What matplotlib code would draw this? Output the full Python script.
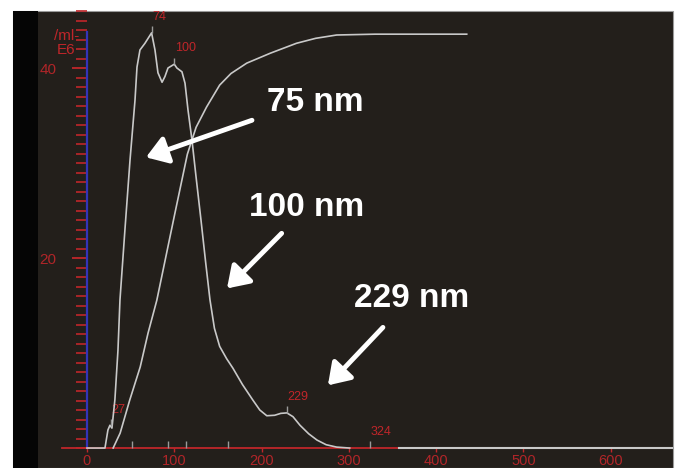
import numpy as np
import matplotlib
matplotlib.use("Agg")
import matplotlib.pyplot as plt
from matplotlib.patches import Rectangle
from matplotlib.ticker import FixedLocator

# particle size distribution, concentration in E6 particles/ml
size_nm = [0, 20.6, 24, 26.3, 28.6, 32, 35.5, 37.8, 43.5, 49.3, 55, 57.3, 60.7, 66.4,
           74, 77.9, 81.3, 86, 89.3, 92.8, 100, 103, 108.8, 112.3, 115.7, 120.3,
           125, 130.6, 136, 140.9, 146, 152, 160, 167.2, 178, 190, 198, 206,
           215, 222, 229, 236, 244, 254, 263.5, 274, 286, 301]
conc = [0, 0, 1.9, 2.4, 2.1, 5.1, 10.3, 15.6, 23, 30.3, 36.6, 40.1, 41.9, 42.6,
        43.7, 41.9, 39.5, 38.5, 39.1, 40.0, 40.4, 40.0, 39.6, 38.4, 35.6, 32.4,
        28.5, 24, 19.5, 15.6, 12.6, 10.7, 9.4, 8.4, 6.7, 5.05, 4.0, 3.4,
        3.45, 3.65, 3.7, 3.3, 2.4, 1.5, 0.84, 0.35, 0.1, 0]

# cumulative distribution, percent
cum_size = [30, 38, 49, 61, 70, 80, 100, 115, 125, 137, 152, 165, 183, 210, 240, 262, 286, 330, 435]
cum_pct = [0, 3.6, 11.6, 19.6, 27.8, 35.7, 56, 71, 77.5, 82.4, 87.7, 90.5, 93, 95.4, 97.8, 99, 99.8, 100, 100]

peaks = [27, 74, 100, 229, 324]
markers = [52, 93, 114, 162]

callouts = ["75 nm", "100 nm", "229 nm"]
callout_text = [(261, 36.4), (252, 25.3), (372, 15.7)]
callout_tail = [(189, 34.5), (223, 22.6), (339, 12.7)]
callout_tip = [(67.6, 30.6), (160.4, 16.8), (276, 6.6)]

BG = "#231f1b"
RED = "#c0262a"
CURVE = "#c9c9c9"

fig = plt.figure(figsize=(6.81, 4.68), dpi=100, facecolor="white")
fig.patches.append(Rectangle((13 / 681, 0), 660 / 681, 457 / 468, transform=fig.transFigure,
                             facecolor=BG, edgecolor="#9a9a9a", lw=0.8, zorder=-2))
fig.patches.append(Rectangle((13 / 681, 0), 25 / 681, 457 / 468, transform=fig.transFigure,
                             facecolor="#050505", edgecolor="none", zorder=-1))

ax = fig.add_axes([38 / 681, 0, 635 / 681, 457 / 468])
ax.set_facecolor("none")
ax.set_xlim(-56.1, 671.3)
ax.set_ylim(-2.1, 46.0)

for s in ["top", "right"]:
    ax.spines[s].set_visible(False)
ax.spines["bottom"].set_position(("data", 0))
ax.spines["bottom"].set_bounds(-29, 358)
ax.spines["bottom"].set_color(RED)
ax.spines["bottom"].set_linewidth(1.3)
ax.spines["left"].set_position(("data", 0))
ax.spines["left"].set_bounds(0, 43.8)
ax.spines["left"].set_color("#3434b8")
ax.spines["left"].set_linewidth(1.6)

ax.xaxis.set_major_locator(FixedLocator(range(0, 700, 100)))
ax.yaxis.set_major_locator(FixedLocator([20, 40]))
ax.yaxis.set_minor_locator(FixedLocator(range(0, 47)))
ax.tick_params(axis="x", colors=RED, length=3, width=1, pad=1, labelsize=10.5)
ax.tick_params(axis="y", which="major", colors=RED, length=11, width=1.3, pad=11, labelsize=11)
ax.tick_params(axis="y", which="minor", colors=RED, length=8, width=1.2)
for lab in ax.get_xticklabels() + ax.get_yticklabels():
    lab.set_fontfamily("Liberation Sans")
    lab.set_alpha(0.9)

ax.text(-9, 43.4, "/ml-", color=RED, fontsize=11, ha="right", va="center", family="Liberation Sans")
ax.text(-13, 41.9, "E6", color=RED, fontsize=11, ha="right", va="center", family="Liberation Sans")

# number distribution and its zero baseline
ax.plot(size_nm, conc, color=CURVE, lw=1.2, zorder=4)
ax.plot([358, 680], [0, 0], color=CURVE, lw=1.5, zorder=4)

# markers along the size axis
ax.vlines(markers, 0, 0.7, color="#9a9a9a", lw=1, zorder=4)

# labelled peaks
peak_h = np.interp(peaks, size_nm, conc)
for p, h in zip(peaks, peak_h):
    ax.vlines(p, h, h + 0.7, color="#9a9a9a", lw=1, zorder=4)
    ax.annotate(str(p), (p, h), xytext=(0.5, 7), textcoords="offset points",
                color=RED, fontsize=9, ha="left", va="bottom", family="Liberation Sans")

# cumulative curve on its own scale
ax2 = ax.twinx()
ax2.set_position(ax.get_position())
ax2.set_ylim(-4.83, 105.6)
ax2.axis("off")
ax2.plot(cum_size, cum_pct, color=CURVE, lw=1.2)

# callouts
for label, (tx, ty), tail, tip in zip(callouts, callout_text, callout_tail, callout_tip):
    ax2.text(tx, ty, label, transform=ax.transData, color="white", fontsize=24,
             fontweight="bold", family="Liberation Sans", ha="center", va="center", zorder=6)
    ax2.annotate("", xy=tip, xytext=tail, xycoords=ax.transData, textcoords=ax.transData,
                 arrowprops=dict(arrowstyle="-|>,head_length=0.9,head_width=0.6",
                                 mutation_scale=14, lw=3.5, color="white",
                                 shrinkA=0, shrinkB=0), zorder=6)

fig.savefig("out.png", dpi=100, facecolor="white")
